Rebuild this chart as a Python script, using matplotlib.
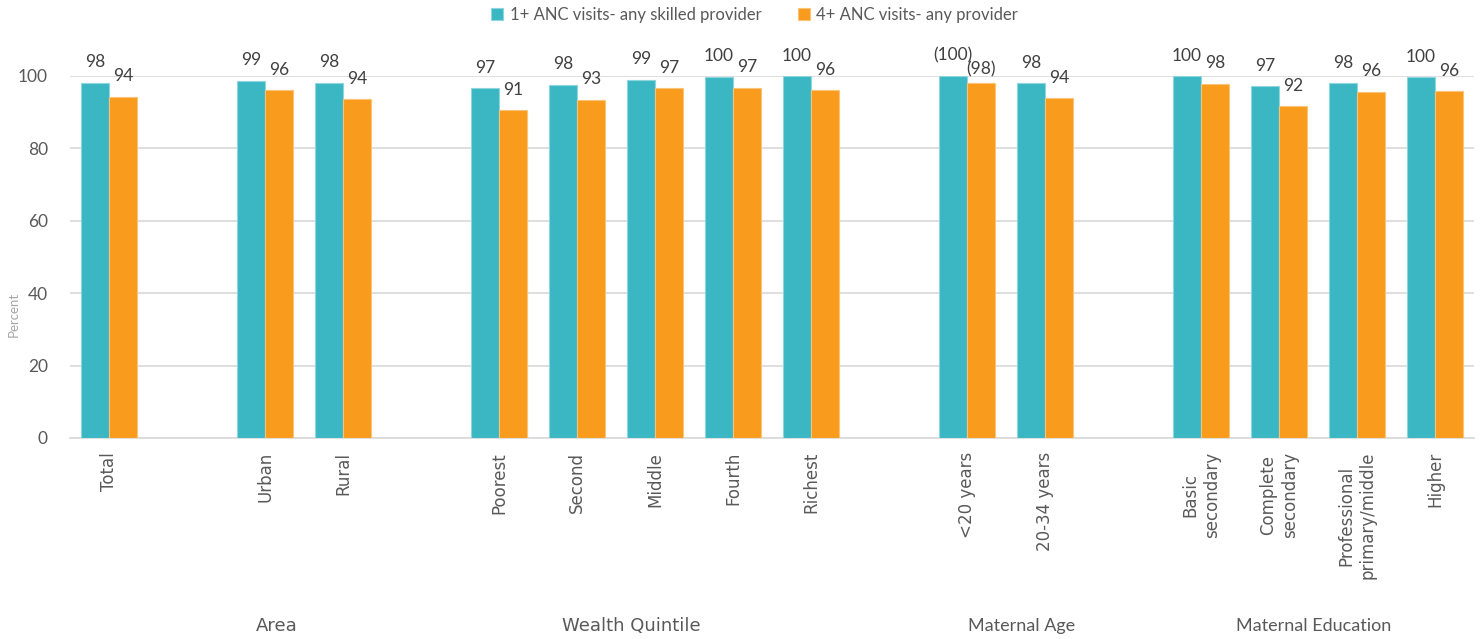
import matplotlib.pyplot as plt
import numpy as np

# category groups (a blank slot is left between groups)
groups = ["", "Area", "Wealth Quintile", "Maternal Age", "Maternal Education"]
group_members = [
    ["Total"],
    ["Urban", "Rural"],
    ["Poorest", "Second", "Middle", "Fourth", "Richest"],
    ["<20 years", "20-34 years"],
    ["Basic\nsecondary", "Complete\nsecondary", "Professional\nprimary/middle", "Higher"],
]

anc1_skilled = [98.1, 98.7, 98.1, 96.6, 97.6, 98.9, 99.8, 99.9, 100.0, 98.0, 99.9, 97.1, 98.0, 99.6]
anc4_any = [94.2, 96.1, 93.6, 90.6, 93.4, 96.6, 96.7, 96.1, 98.1, 93.9, 97.9, 91.6, 95.6, 95.8]
# estimates based on few cases are shown in brackets
bracketed = ["<20 years"]

series_names = ["1+ ANC visits- any skilled provider", "4+ ANC visits- any provider"]
colors = ["#3BB7C4", "#F99B1C"]
edge_colors = ["#8ED6DE", "#FBC37A"]

# slot positions with one empty slot between groups
categories, xpos = [], []
slot = 0
for members in group_members:
    for m in members:
        categories.append(m)
        xpos.append(slot)
        slot += 1
    slot += 1
xpos = np.array(xpos)
last_slot = xpos[-1]

group_label_x = [None, 2.15, 6.7, 11.7, 15.45]

fig = plt.figure(figsize=(14.8, 6.39), dpi=100)
ax_bottom = 1 - 438 / 639
ax_height = (438 - 76) / 639
ax = fig.add_axes([70 / 1480, ax_bottom, 1404 / 1480, ax_height])

w = 0.36
text_col = "#404040"
for i, (vals, name) in enumerate(zip([anc1_skilled, anc4_any], series_names)):
    offs = -w / 2 if i == 0 else w / 2
    bars = ax.bar(xpos + offs, vals, width=w, color=colors[i], edgecolor=edge_colors[i],
                  linewidth=0.8, label=name, zorder=3)
    for b, v, cat in zip(bars, vals, categories):
        lab = f"{v:.0f}"
        dy = 9
        if cat in bracketed:
            lab = f"({lab})"
            if i == 1:
                dy = 4  # sits a little lower so it clears the teal label
        ax.annotate(lab, (b.get_x() + b.get_width() / 2, v), xytext=(0, dy),
                    textcoords="offset points", ha="center", va="bottom",
                    fontsize=12.5, family="Lato", color=text_col, clip_on=False)

ax.set_xlim(-0.5, last_slot + 0.5)
ax.set_ylim(0, 100)
ax.set_yticks(range(0, 101, 20))
ax.yaxis.grid(True, color="#D9D9D9", linewidth=1.2, zorder=0)
ax.set_axisbelow(True)
for s in ["top", "right", "left"]:
    ax.spines[s].set_visible(False)
ax.spines["bottom"].set_color("#D9D9D9")
ax.spines["bottom"].set_linewidth(1.2)
ax.tick_params(axis="y", length=0, pad=16, labelsize=12.5, labelcolor="#595959")
for t in ax.get_yticklabels():
    t.set_family("Lato")
ax.set_xticks(xpos)
ax.set_xticklabels(categories, rotation=90, fontsize=12, color="#595959",
                   family="DejaVu Sans", linespacing=1.25)
ax.tick_params(axis="x", length=0, pad=10)

fig.text(14 / 1480, 1 - 314 / 639, "Percent", rotation=90, ha="center", va="center",
         fontsize=9.5, color="#A6A6A6", family="Lato")

# group labels in the band below the tick labels
group_y = ((1 - 626 / 639) - ax_bottom) / ax_height
for g, gx in zip(groups, group_label_x):
    if not g:
        continue
    fam = ["Liberation Sans Narrow", "DejaVu Sans"] if g in ("Area", "Wealth Quintile") else "Lato"
    ax.text(gx, group_y, g, transform=ax.get_xaxis_transform(), ha="center", va="center",
            fontsize=13, color="#595959", family=fam, clip_on=False)

leg = fig.legend(loc="center", bbox_to_anchor=(0.51, 1 - 15 / 639), ncol=2, frameon=False,
                 handlelength=0.7, handleheight=0.7, columnspacing=2.2,
                 handletextpad=0.4, prop={"family": "Lato", "size": 12})
for t in leg.get_texts():
    t.set_color("#595959")

fig.savefig("out.png", dpi=100)
